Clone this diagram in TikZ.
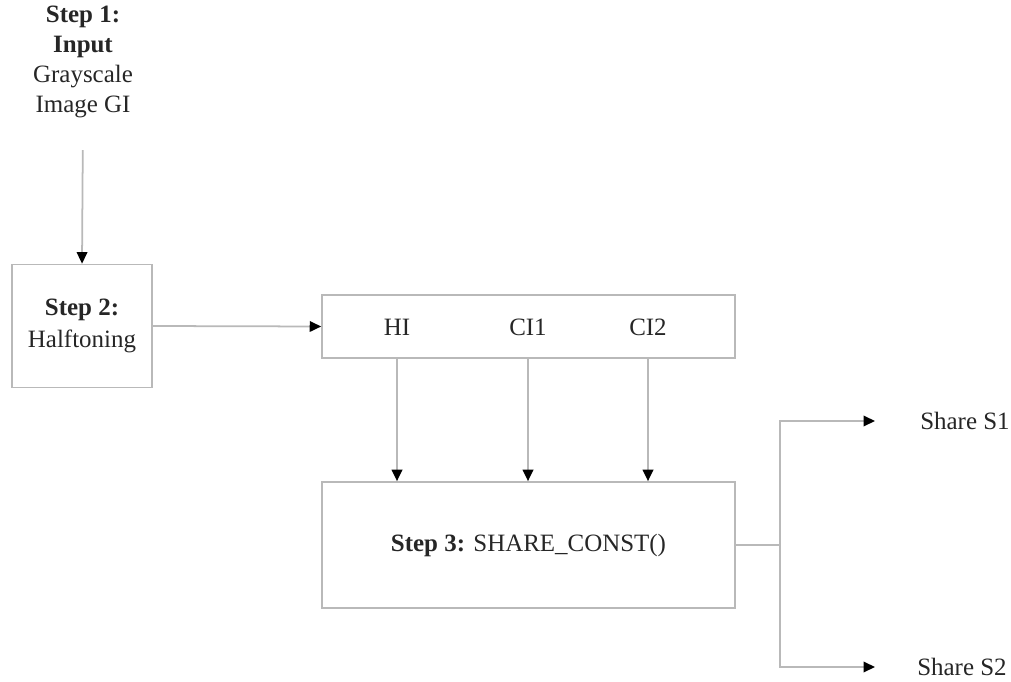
\documentclass[tikz,border=0pt]{standalone}
\usepackage{fontspec}
\setmainfont{Liberation Serif}
\newfontfamily\diagfont{Liberation Serif}
\usetikzlibrary{arrows.meta,positioning}

\begin{document}
\begin{tikzpicture}[x=0.02cm, y=-0.02cm,
    txt/.style={text=black!85, font=\diagfont\fontsize{14.2}{17}\selectfont, align=center, inner sep=0pt},
    stepbox/.style={rectangle, draw=gray!55, line width=1pt, txt},
    arr/.style={draw=gray!55, line width=1pt, -{Triangle[color=black, length=6.5pt, width=6pt]}}
]
\useasboundingbox (0,0) rectangle (1011,682);

% Step 1 and 2
\node[txt] (input) at (83,62) {\textbf{Step 1:}\\\textbf{Input}\\Grayscale\\Image GI};
\node[stepbox, minimum width=2.8cm, minimum height=2.46cm] (half) at (82,326) {\textbf{Step 2:}\\[1pt]Halftoning};

% Halftone and cover images
\node[stepbox, minimum width=8.26cm, minimum height=1.26cm] (imgs) at (528.5,326.5) {};
\node[txt] (hi) at (397,327) {HI};
\node[txt] (ci1) at (528,327) {CI1};
\node[txt] (ci2) at (648,327) {CI2};

% Step 3
\node[stepbox, minimum width=8.26cm, minimum height=2.52cm] (share) at (528.5,545) {\textbf{Step 3:} SHARE\_CONST()};
\coordinate (split) at (780,545);

% Outputs
\node[txt] (s1) at (965,421) {Share S1};
\node[txt] (s2) at (962,667) {Share S2};

% Arrows
\draw[arr, shorten <=0.64cm] (input.south) -- (half.north);
\draw[arr] (half.east) -- (imgs.west);
\draw[arr] (hi |- imgs.south) -- (hi |- share.north);
\draw[arr] (ci1 |- imgs.south) -- (ci1 |- share.north);
\draw[arr] (ci2 |- imgs.south) -- (ci2 |- share.north);
\draw[draw=gray!55, line width=1pt] (share.east) -- (split);
\draw[arr, shorten >=0.9cm] (split) |- (s1.west);
\draw[arr, shorten >=0.84cm] (split) |- (s2.west);

\end{tikzpicture}
\end{document}
